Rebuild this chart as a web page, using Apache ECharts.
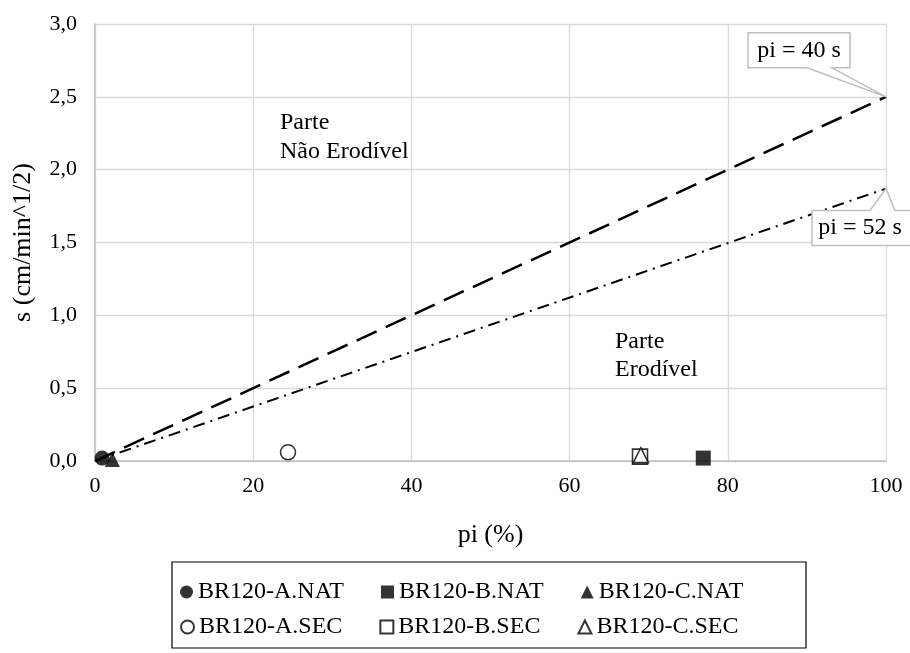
<!DOCTYPE html>
<html>
<head>
<meta charset="utf-8">
<script src="https://cdn.jsdelivr.net/npm/echarts@6/dist/echarts.min.js"></script>
<style>
html,body{margin:0;padding:0;background:#fff;}
#chart{width:910px;height:653px;}
</style>
</head>
<body>
<div id="chart"></div>
<script>
// ---- data ----
var seriesNames = ['BR120-A.NAT','BR120-B.NAT','BR120-C.NAT','BR120-A.SEC','BR120-B.SEC','BR120-C.SEC'];
var aNat = [[0.9, 0.02]];
var bNat = [[76.9, 0.02]];
var cNat = [[2.2, 0.01]];
var aSec = [[24.4, 0.06]];
var bSec = [[68.9, 0.03]];
var cSec = [[69.0, 0.04]];
var line40 = [[0, 0], [100, 2.5]];
var line52 = [[0, 0], [100, 1.87]];
var calloutTexts = ['pi = 40 s', 'pi = 52 s'];
var xTicks = [0, 20, 40, 60, 80, 100];
var yTicks = [0, 0.5, 1.0, 1.5, 2.0, 2.5, 3.0];

var FONT = 'Liberation Serif';
var chart = echarts.init(document.getElementById('chart'));

function scatter(name, data, symbol, filled) {
  return {
    name: name, type: 'scatter', data: data, symbol: symbol,
    symbolSize: 15, z: 5,
    itemStyle: filled ? {color: '#000'} : {color: '#fff', borderColor: '#000', borderWidth: 1.6}
  };
}

var legendText = {fontFamily: FONT, fontSize: 24, color: '#000'};

var option = {
  backgroundColor: '#fff',
  animation: false,
  textStyle: {fontFamily: FONT},
  grid: {left: 95, right: 24, top: 24, bottom: 192},
  xAxis: {
    type: 'value', min: 0, max: 100, interval: 20,
    name: 'pi (%)', nameLocation: 'middle', nameGap: 61,
    nameTextStyle: {fontFamily: FONT, fontSize: 26, color: '#000'},
    axisLine: {show: true, onZero: false, lineStyle: {color: '#bfbfbf', width: 1.5}},
    axisTick: {show: false},
    axisLabel: {fontFamily: FONT, fontSize: 22, color: '#000', margin: 14},
    splitLine: {show: true, lineStyle: {color: '#d9d9d9', width: 1.3}}
  },
  yAxis: {
    type: 'value', min: 0, max: 3, interval: 0.5,
    name: 's (cm/min^1/2)', nameLocation: 'middle', nameGap: 59,
    nameTextStyle: {fontFamily: FONT, fontSize: 26, color: '#000'},
    axisLine: {show: true, lineStyle: {color: '#bfbfbf', width: 1.5}},
    axisTick: {show: false},
    axisLabel: {fontFamily: FONT, fontSize: 22, color: '#000', margin: 18,
      formatter: function (v) { return v.toFixed(1).replace('.', ','); }},
    splitLine: {show: true, lineStyle: {color: '#d9d9d9', width: 1.3}}
  },
  legend: [
    {data: seriesNames.slice(0, 3), left: 180, top: 580, padding: 0, itemGap: 37, itemWidth: 13, itemHeight: 13,
     textStyle: legendText, selectedMode: false},
    {data: seriesNames.slice(3, 6), left: 180, top: 615, padding: 0, itemGap: 37, itemWidth: 13, itemHeight: 13,
     textStyle: legendText, selectedMode: false}
  ],
  series: [
    {type: 'line', data: line40, symbol: 'none', z: 2,
     lineStyle: {color: '#000', width: 2.5, type: [22, 10]}},
    {type: 'line', data: line52, symbol: 'none', z: 2,
     lineStyle: {color: '#000', width: 2, type: [12, 6, 2, 6]}},
    scatter(seriesNames[0], aNat, 'circle', true),
    scatter(seriesNames[1], bNat, 'rect', true),
    scatter(seriesNames[2], cNat, 'triangle', true),
    scatter(seriesNames[3], aSec, 'circle', false),
    scatter(seriesNames[4], bSec, 'rect', false),
    scatter(seriesNames[5], cSec, 'triangle', false)
  ]
};
chart.setOption(option);

var t1 = chart.convertToPixel({gridIndex: 0}, line40[1]);
var t2 = chart.convertToPixel({gridIndex: 0}, line52[1]);
var callStyle = {fill: '#fff', stroke: '#bfbfbf', lineWidth: 1.5};
var txtStyle = {fontFamily: FONT, fontSize: 24, fill: '#000', textAlign: 'center', textVerticalAlign: 'middle'};

var b1 = {x0: t1[0] - 138, x1: t1[0] - 36, y0: t1[1] - 64, y1: t1[1] - 29};
var b2 = {x0: t2[0] - 74, x1: t2[0] + 30, y0: t2[1] + 22, y1: t2[1] + 57};

chart.setOption({
  graphic: [
    {type: 'polygon', z: 10, shape: {points: [
      [b1.x0, b1.y0], [b1.x1, b1.y0], [b1.x1, b1.y1], [t1[0] - 54, b1.y1], t1, [t1[0] - 79, b1.y1], [b1.x0, b1.y1]
    ]}, style: callStyle},
    {type: 'text', z: 11, x: (b1.x0 + b1.x1) / 2, y: (b1.y0 + b1.y1) / 2, style: Object.assign({text: calloutTexts[0]}, txtStyle)},
    {type: 'polygon', z: 10, shape: {points: [
      [b2.x0, b2.y0], [t2[0] - 16, b2.y0], t2, [t2[0] + 9, b2.y0], [b2.x1, b2.y0], [b2.x1, b2.y1], [b2.x0, b2.y1]
    ]}, style: callStyle},
    {type: 'text', z: 11, x: b2.x0 + 48, y: (b2.y0 + b2.y1) / 2, style: Object.assign({text: calloutTexts[1]}, txtStyle)},
    {type: 'text', z: 11, x: 280, y: 108, style: {text: 'Parte\nNão Erodível', fontFamily: FONT, fontSize: 24, fill: '#000', lineHeight: 29}},
    {type: 'text', z: 11, x: 615, y: 328, style: {text: 'Parte\nErodível', fontFamily: FONT, fontSize: 24, fill: '#000', lineHeight: 28}},
    {type: 'rect', z: 1, shape: {x: 172, y: 562, width: 634, height: 86}, style: {fill: 'none', stroke: '#000', lineWidth: 1.2}}
  ]
});
</script>
</body>
</html>
